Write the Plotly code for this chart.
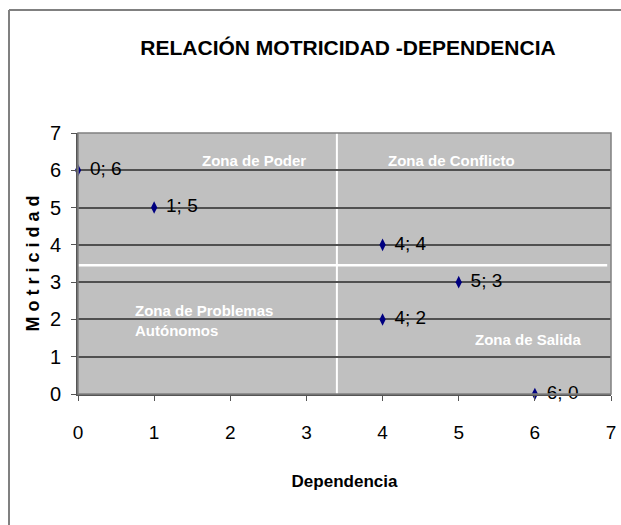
import plotly.graph_objects as go

# data
dependencia = [0, 1, 4, 5, 4, 6]
motricidad = [6, 5, 4, 3, 2, 0]
point_labels = [f"{x}; {y}" for x, y in zip(dependencia, motricidad)]

zone_names = ["Zona de Poder", "Zona de Conflicto", "Zona de Problemas<br>Autónomos", "Zona de Salida"]
zone_x = [2.31, 4.9, 0.72, 5.91]
zone_y = [6.27, 6.27, 1.98, 1.47]
zone_anchor = ["center", "center", "left", "center"]

divider_x = 3.4
divider_y = 3.45

FONT = "Liberation Sans, Arial, sans-serif"

W, H = 621, 525
L, R, T, B = 78, 10, 133, 131
pw, ph = W - L - R, H - T - B

fig = go.Figure()
fig.add_trace(go.Scatter(
    x=dependencia,
    y=motricidad,
    mode="markers+text",
    text=[" " + t for t in point_labels],
    textposition="middle right",
    textfont=dict(family=FONT, size=19, color="black"),
    marker=dict(symbol="diamond-tall", size=9, color="#000080"),
    cliponaxis=False,
    showlegend=False,
))

# white dividing lines
fig.add_shape(type="line", x0=divider_x, x1=divider_x, y0=0, y1=7,
              line=dict(color="white", width=2), layer="below")
fig.add_shape(type="line", x0=0, x1=6.95, y0=divider_y, y1=divider_y,
              line=dict(color="white", width=2.5), layer="below")

for name, zx, zy, anc in zip(zone_names, zone_x, zone_y, zone_anchor):
    fig.add_annotation(
        x=zx, y=zy, text="<b>" + name + "</b>",
        showarrow=False, xanchor=anc, align="left",
        font=dict(family=FONT, size=15, color="white"),
    )

# outer frame (left and top edges)
fx = -(L - 9) / pw
fy = 1 + (T - 10) / ph
fig.add_shape(type="line", xref="paper", yref="paper",
              x0=fx, x1=fx, y0=-1.0, y1=fy,
              line=dict(color="#808080", width=2))
fig.add_shape(type="line", xref="paper", yref="paper",
              x0=fx, x1=1.2, y0=fy, y1=fy,
              line=dict(color="#808080", width=2))

fig.update_layout(
    width=W,
    height=H,
    margin=dict(l=L, r=R, t=T, b=B),
    paper_bgcolor="white",
    plot_bgcolor="#C0C0C0",
    title=dict(
        text="<b>RELACIÓN MOTRICIDAD -DEPENDENCIA</b>",
        x=348 / W, xanchor="center", y=1 - 48 / H, yanchor="middle",
        font=dict(family=FONT, size=21, color="black"),
    ),
    xaxis=dict(
        range=[0, 7], dtick=1, tick0=0,
        showgrid=False, zeroline=False, automargin=False,
        showline=True, linecolor="#555555", linewidth=2,
        ticks="outside", ticklen=5, tickcolor="#555555",
        ticklabelstandoff=15,
        tickfont=dict(family=FONT, size=19, color="black"),
        title=dict(text="<b>Dependencia</b>", standoff=33,
                   font=dict(family=FONT, size=17, color="black")),
    ),
    yaxis=dict(
        range=[0, 7], dtick=1, tick0=0,
        showgrid=True, gridcolor="#505050", gridwidth=1.5,
        zeroline=False, automargin=False,
        showline=True, linecolor="#555555", linewidth=2,
        ticks="outside", ticklen=5, tickcolor="#555555",
        ticklabelstandoff=6,
        tickfont=dict(family=FONT, size=20, color="black"),
        title=dict(text="<b>M o t r i c i d a d</b>", standoff=6,
                   font=dict(family=FONT, size=18, color="black")),
    ),
)

# plot area border
fig.add_shape(type="rect", xref="paper", yref="paper", x0=0, x1=1, y0=0, y1=1,
              line=dict(color="#808080", width=1.5), layer="above")

# drop the default page margin so the figure fills the window
fig.write_html("out.html", config={"displayModeBar": False},
               post_script="document.body.style.margin='0px';")
